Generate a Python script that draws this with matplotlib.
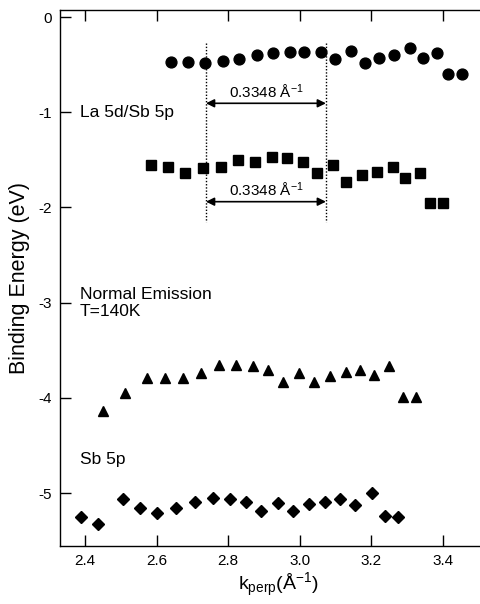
import matplotlib
matplotlib.use("Agg")
import matplotlib.pyplot as plt

plt.rcParams['font.family'] = ['Liberation Sans', 'DejaVu Sans']
plt.rcParams['mathtext.fontset'] = 'custom'
plt.rcParams['mathtext.rm'] = 'Liberation Sans'
plt.rcParams['mathtext.it'] = 'Liberation Sans:italic'

# La 5d / Sb 5p (circles)
k_circ = [2.639, 2.687, 2.735, 2.785, 2.831, 2.880, 2.926, 2.973, 3.013, 3.058,
          3.098, 3.142, 3.182, 3.222, 3.264, 3.308, 3.345, 3.382, 3.415, 3.452]
e_circ = [-0.469, -0.469, -0.480, -0.459, -0.438, -0.396, -0.375, -0.364, -0.364, -0.364,
          -0.444, -0.357, -0.480, -0.430, -0.396, -0.325, -0.430, -0.381, -0.598, -0.598]

# squares
k_sq = [2.584, 2.633, 2.679, 2.730, 2.779, 2.828, 2.875, 2.923, 2.963, 3.008,
        3.047, 3.092, 3.129, 3.173, 3.215, 3.259, 3.294, 3.336, 3.364, 3.401]
e_sq = [-1.554, -1.578, -1.641, -1.588, -1.578, -1.501, -1.519, -1.467, -1.483, -1.519,
        -1.635, -1.554, -1.729, -1.659, -1.624, -1.572, -1.693, -1.635, -1.950, -1.950]

# triangles
k_tri = [2.449, 2.512, 2.572, 2.623, 2.673, 2.723, 2.775, 2.822, 2.868, 2.912,
         2.952, 2.999, 3.040, 3.084, 3.128, 3.168, 3.207, 3.250, 3.287, 3.325]
e_tri = [-4.133, -3.951, -3.787, -3.787, -3.787, -3.741, -3.654, -3.654, -3.664, -3.706,
         -3.829, -3.741, -3.829, -3.769, -3.724, -3.706, -3.760, -3.660, -3.990, -3.990]

# Sb 5p (diamonds)
k_dia = [2.388, 2.437, 2.505, 2.554, 2.602, 2.654, 2.707, 2.757, 2.805, 2.850,
         2.891, 2.940, 2.982, 3.027, 3.070, 3.112, 3.154, 3.202, 3.238, 3.274]
e_dia = [-5.246, -5.326, -5.064, -5.152, -5.204, -5.158, -5.089, -5.053, -5.060, -5.089,
         -5.183, -5.099, -5.186, -5.113, -5.095, -5.060, -5.120, -5.000, -5.240, -5.250]

k_lines = [2.738, 3.073]
period_label = "0.3348 Å$^{-1}$"
x_ticks = [2.4, 2.6, 2.8, 3.0, 3.2, 3.4]
y_ticks = [0, -1, -2, -3, -4, -5]

fig = plt.figure(figsize=(4.81, 6.04), dpi=100)
ax = fig.add_axes([60/481, 58/604, 1.22*358/481, 536/604])
ax.set_xlim(2.3302, 3.5502)
ax.set_ylim(-5.554, 0.0735)

ax.plot(k_circ, e_circ, 'o', color='black', markersize=7.8, linestyle='none')
ax.plot(k_sq, e_sq, 's', color='black', markersize=7.5, linestyle='none')
ax.plot(k_tri, e_tri, '^', color='black', markersize=7.8, linestyle='none')
ax.plot(k_dia, e_dia, 'D', color='black', markersize=5.8, linestyle='none')

for kx in k_lines:
    ax.plot([kx, kx], [-0.27, -2.15], linestyle=(0, (1, 1.3)), color='black', linewidth=1.0)

for ya, yt in [(-0.906, -0.79), (-1.939, -1.82)]:
    ax.annotate('', xy=(k_lines[0], ya), xytext=(k_lines[1], ya),
                arrowprops=dict(arrowstyle='<|-|>', color='black', lw=1.2,
                                mutation_scale=12, shrinkA=0, shrinkB=0))
    ax.text((k_lines[0] + k_lines[1]) / 2, yt, period_label, ha='center', va='center',
            fontsize=11)

ax.text(2.385, -1.0, "La 5d/Sb 5p", fontsize=12.5, ha='left', va='center')
ax.text(2.385, -3.0, "Normal Emission\nT=140K", fontsize=12.5, ha='left', va='center',
        linespacing=1.15)
ax.text(2.385, -4.65, "Sb 5p", fontsize=12.5, ha='left', va='center')

ax.set_xticks(x_ticks)
ax.set_xticklabels([f"{v:.1f}" for v in x_ticks])
ax.set_yticks(y_ticks)
ax.set_yticklabels([str(v) for v in y_ticks])
ax.tick_params(direction='in', length=8, width=1.0, labelsize=11, top=True, right=False,
               pad=6)
for s in ax.spines.values():
    s.set_linewidth(1.0)

ax.set_xlabel("k$_{\\mathrm{perp}}$(Å$^{-1}$)", fontsize=14, labelpad=2)
ax.set_ylabel("Binding Energy (eV)", fontsize=15.5, labelpad=6)

fig.savefig("out.png", dpi=100)
